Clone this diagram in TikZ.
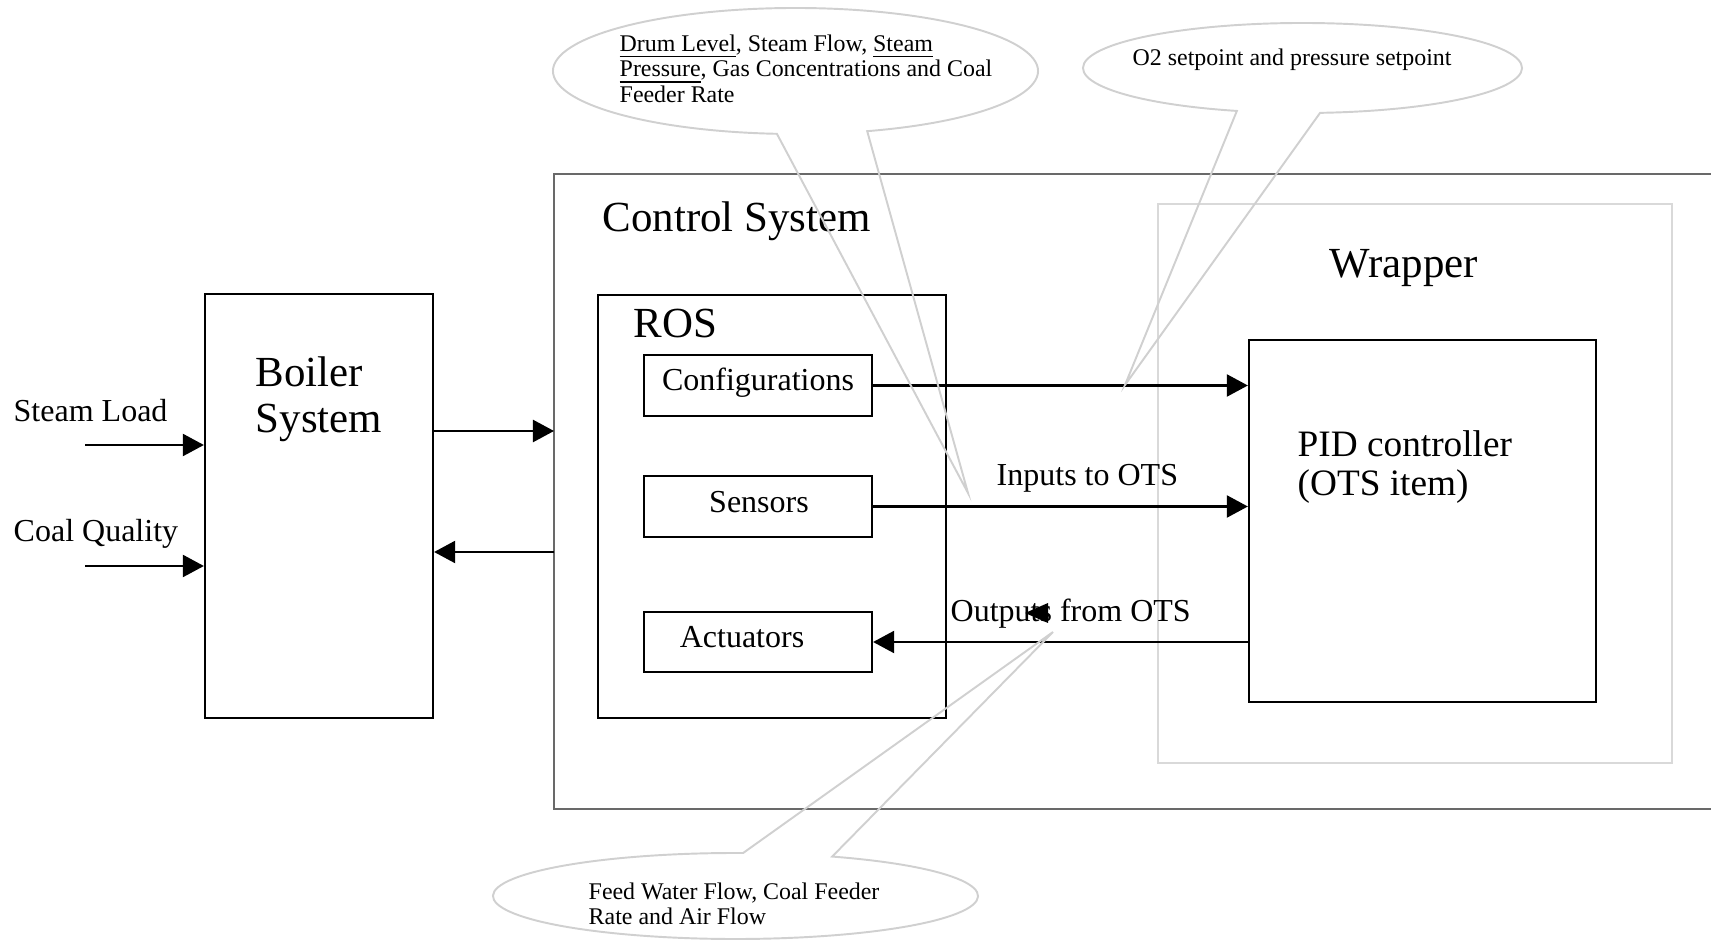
\documentclass[tikz,border=0pt]{standalone}
\usepackage{fontspec}
\setmainfont{Liberation Serif}
\usetikzlibrary{arrows.meta,calc,positioning}
\definecolor{callgray}{RGB}{208,208,208}
\definecolor{wrapgray}{RGB}{217,217,217}
\definecolor{ctrlgray}{RGB}{105,105,105}

\begin{document}
\begin{tikzpicture}[x=0.01cm,y=-0.01cm,
  blk/.style={draw,line width=0.6pt,inner sep=0pt},
  arr/.style={-{Triangle[length=6pt,width=6.3pt]},line width=0.6pt},
  callout/.style={draw=callgray,line width=0.55pt},
  bigtxt/.style={inner sep=0pt,font=\fontsize{12.2pt}{13.1pt}\selectfont},
  midtxt/.style={inner sep=0pt,font=\fontsize{9.1pt}{10pt}\selectfont},
  pidtxt/.style={inner sep=0pt,font=\fontsize{10.6pt}{11.1pt}\selectfont},
  smalltxt/.style={inner sep=0pt,font=\fontsize{6.8pt}{7.3pt}\selectfont}]
  \useasboundingbox (0,0) rectangle (1711,943);

  % boiler
  \node[blk,minimum width=2.28cm,minimum height=4.24cm] (boiler) at (319,506) {};
  \node[bigtxt,anchor=north west,align=left] (boilertxt) at (255,356) {Boiler\\System};

  % control system (runs off the right edge)
  \coordinate (csnw) at (554,174);
  \coordinate (csse) at (1711,809);
  \draw[ctrlgray,line width=0.35pt] (csnw -| csse) -- (csnw) -- (csnw |- csse) -- (csse);
  \node[bigtxt,anchor=base west] (cstxt) at (602,232) {Control System};

  % ROS
  \node[blk,minimum width=3.48cm,minimum height=4.23cm] (ros) at (772,506.5) {};
  \node[bigtxt,anchor=base west] (rostxt) at (633,338) {ROS};
  \node[blk,minimum width=2.28cm,minimum height=0.61cm] (conf) at (758,385.5) {};
  \node[blk,minimum width=2.28cm,minimum height=0.61cm] (sens) at (758,506.5) {};
  \node[blk,minimum width=2.28cm,minimum height=0.60cm] (act) at (758,642) {};
  \node[midtxt,anchor=base] (conftxt) at (758,391) {Configurations};
  \node[midtxt,anchor=base] (senstxt) at (759,513) {Sensors};
  \node[midtxt,anchor=base] (acttxt) at (742,648) {Actuators};

  % wrapper and PID
  \node[draw=wrapgray,line width=0.6pt,minimum width=5.14cm,minimum height=5.59cm] (wrap) at (1415,483.5) {};
  \node[bigtxt,anchor=base west] (wraptxt) at (1329,278) {Wrapper};
  \node[blk,minimum width=3.47cm,minimum height=3.62cm] (pid) at (1422.5,521) {};
  \node[pidtxt,anchor=north west,align=left] (pidtxt) at (1297,430) {PID controller\\(OTS item)};

  % inputs to the boiler
  \coordinate (sl) at (85,445);
  \coordinate (cq) at (85,566);
  \draw[arr] (sl) -- (sl -| boiler.west);
  \draw[arr] (cq) -- (cq -| boiler.west);
  \node[midtxt,anchor=base west] (sltxt) at (13,422) {Steam Load};
  \node[midtxt,anchor=base west] (cqtxt) at (13,542) {Coal Quality};

  % boiler <-> control system
  \coordinate (up) at (554,431);
  \coordinate (down) at (554,552);
  \draw[arr] (up -| boiler.east) -- (up);
  \draw[arr] (down) -- (down -| boiler.east);

  % ROS <-> PID
  \draw[arr] (conf.east) -- (conf.east -| pid.west);
  \draw[arr] (sens.east) -- (sens.east -| pid.west);
  \draw[arr] (act.east -| pid.west) -- (act.east);
  \node[midtxt,anchor=base west] (intxt) at (996,486) {Inputs to OTS};
  \node[midtxt,anchor=base west] (outtxt) at (950,622) {Outputs from OTS};
  \fill (1025,613) -- (1048,603) -- (1048,623) -- cycle;

  % callouts
  \coordinate (c1) at (795.5,71);
  \coordinate (tip1) at (968,493);
  \draw[callout] (tip1) -- ($(c1)+(72.8:242.5 and 63)$)
    arc[start angle=72.8,end angle=-265.6,x radius=242.5,y radius=63] -- cycle;
  \node[smalltxt,anchor=north west,align=left] (c1txt) at (619,34)
    {\underline{Drum Level}, Steam Flow, \underline{Steam}\\\underline{Pressure}, Gas Concentrations and Coal\\Feeder Rate};

  \coordinate (c2) at (1302.5,68);
  \coordinate (tip2) at (1125,385);
  \draw[callout] (tip2) -- ($(c2)+(107.4:219.5 and 45)$)
    arc[start angle=107.4,end angle=445.4,x radius=219.5,y radius=45] -- cycle;
  \node[smalltxt,anchor=base west] (c2txt) at (1132,66) {O2 setpoint and pressure setpoint};

  \coordinate (c3) at (735.5,896);
  \coordinate (tip3) at (1053,632);
  \draw[callout] (tip3) -- ($(c3)+(-66.5:242.5 and 43)$)
    arc[start angle=-66.5,end angle=271.8,x radius=242.5,y radius=43] -- cycle;
  \node[smalltxt,anchor=north west,align=left] (c3txt) at (588,882)
    {Feed Water Flow, Coal Feeder\\Rate and Air Flow};
\end{tikzpicture}
\end{document}
